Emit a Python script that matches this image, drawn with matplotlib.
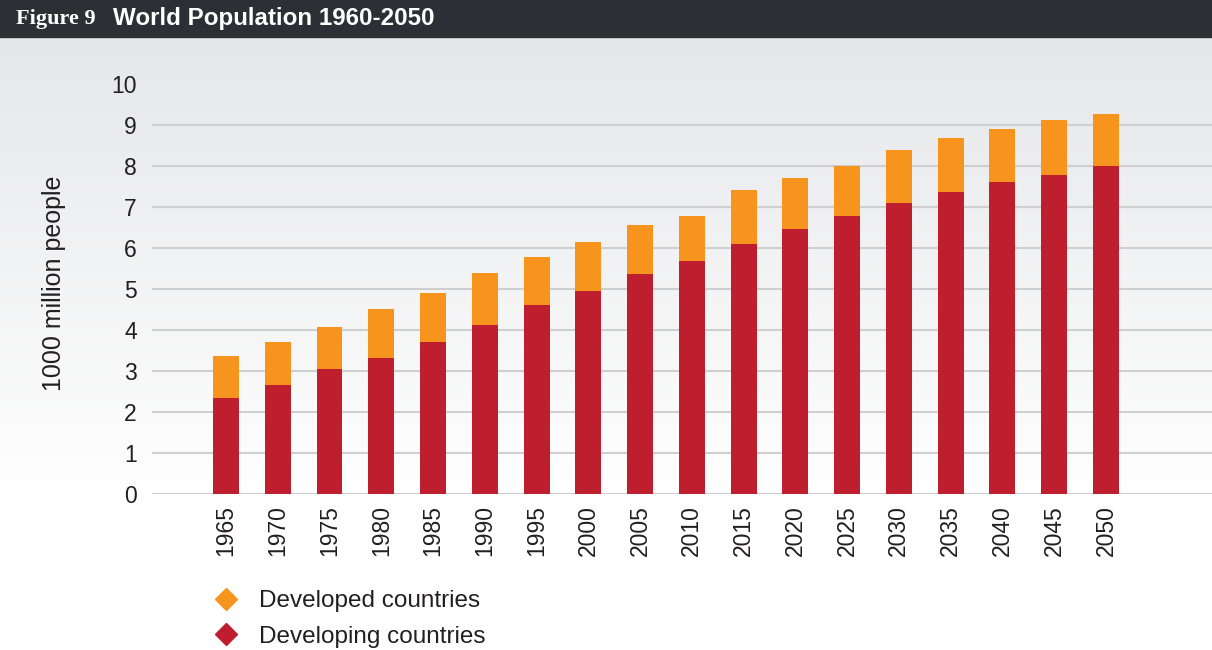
import numpy as np
from matplotlib import pyplot as plt
from matplotlib.lines import Line2D

years = ["1965","1970","1975","1980","1985","1990","1995","2000","2005",
         "2010","2015","2020","2025","2030","2035","2040","2045","2050"]
developing = [2.35,2.67,3.06,3.33,3.72,4.13,4.60,4.95,5.37,
              5.68,6.10,6.46,6.78,7.10,7.37,7.61,7.78,8.00]
developed = [1.02,1.04,1.02,1.19,1.19,1.25,1.17,1.20,1.19,
             1.10,1.31,1.25,1.22,1.29,1.31,1.29,1.34,1.27]

orange = "#f7941d"
red = "#be1e2d"
W, H = 1212, 650

plt.rcParams['font.family'] = ['Liberation Sans', 'DejaVu Sans']
fig = plt.figure(figsize=(W/100, H/100), dpi=100)

# background: dark header strip + grey-to-white gradient
bg = fig.add_axes([0, 0, 1, 1], zorder=-5)
bg.set_xlim(0, W)
bg.set_ylim(H, 0)
bg.axis("off")
grad = np.ones((H, 1))
top, fade = 37, 500
for r in range(H):
    if r < top:
        grad[r] = 0
    elif r < fade:
        grad[r] = (r - top) / (fade - top)
c0 = np.array([0xe6, 0xe7, 0xe9]) / 255.0
c1 = np.array([1.0, 1.0, 1.0])
img = c0[None, None, :] + (c1 - c0)[None, None, :] * grad[:, :, None]
bg.imshow(img, extent=[0, W, H, 0], aspect="auto")
bg.fill_between([0, W], 0, top, color="#2c3034")
fig.text(16/W, 1 - 19/H, "Figure 9", family=["Liberation Serif", "DejaVu Serif"],
         fontweight="bold", fontsize=16, color="white", va="center")
fig.text(113/W, 1 - 19/H, "World Population 1960-2050", fontweight="bold",
         fontsize=17.4, color="white", va="center")

ax = fig.add_axes([152/W, 1 - 494.3/H, 1 - 152/W, (494.3 - 83.8)/H])
ax.set_facecolor("none")
x = np.arange(len(years))
ax.bar(x, developing, width=0.5, color=red, zorder=3)
ax.bar(x, developed, width=0.5, bottom=developing, color=orange, zorder=3)

ax.set_xlim(-1.43, 19.05)
ax.set_ylim(0, 10)
ax.set_yticks(range(11))
ax.set_xticks(x)
ax.set_xticklabels(years, rotation=90)
ax.tick_params(length=0, labelsize=16.5, colors="#231f20")
ax.tick_params(axis="y", pad=11)
ax.tick_params(axis="x", pad=8)
for v in range(10):
    ax.axhline(v, color="#cfcfcf", linewidth=1.5, zorder=1)
for s in ax.spines.values():
    s.set_visible(False)

fig.text(54/W, 1 - 283/H, "1000 million people", rotation=90, fontsize=18,
         color="#231f20", ha="center", va="center")

handles = [Line2D([], [], marker="D", linestyle="none", markersize=11, color=orange),
           Line2D([], [], marker="D", linestyle="none", markersize=11, color=red)]
fig.legend(handles, ["Developed countries", "Developing countries"],
           loc="upper left", bbox_to_anchor=(190/W, 1 - 578/H), frameon=False,
           fontsize=17.5, handletextpad=0.33, labelspacing=0.55, borderpad=0,
           labelcolor="#231f20")

plt.savefig("out.png", dpi=100)
